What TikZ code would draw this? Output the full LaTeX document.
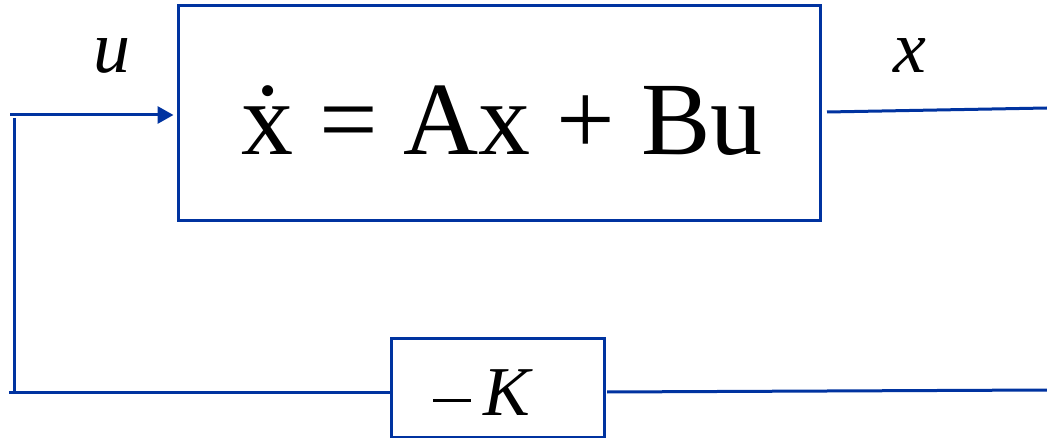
\documentclass[tikz,border=0pt]{standalone}
\usepackage{fontspec}
\setmainfont{Liberation Serif}
\usetikzlibrary{arrows.meta}
\definecolor{lineblue}{RGB}{0,51,160}
\begin{document}
\begin{tikzpicture}[x=1pt,y=-1pt,
  box/.style={draw=lineblue,line width=3pt,inner sep=0pt},
  wire/.style={draw=lineblue,line width=3pt},
  lbl/.style={inner sep=0pt,anchor=base,font=\fontsize{74}{74}\selectfont\itshape}]
\useasboundingbox (0,0) rectangle (1047,438);
% blocks
\node[box,minimum width=642pt,minimum height=215pt] (plant) at (499,113.5) {};
\node[box,minimum width=213pt,minimum height=98pt] (gain) at (497.5,388) {};
% texts
\node[anchor=base,inner sep=0pt,font=\fontsize{104}{104}\selectfont] (eq) at (502,155) {\.{x} = Ax + Bu};
\node[anchor=base west,inner sep=0pt,font=\fontsize{70}{70}\selectfont] (k) at (433,415) {\rule[13pt]{38pt}{3.5pt}\hspace{12pt}\textit{K}};
\node[lbl] (ulbl) at (112,73) {u};
\node[lbl] (xlbl) at (910,73) {x};
% coordinates
\coordinate (inL) at (10,115);
\coordinate (vTop) at (14,118);
\coordinate (vBot) at (14,392);
\coordinate (botL) at (9,392);
\coordinate (outR) at (1047,108);
\coordinate (outStart) at (827,112);
\coordinate (fbR) at (1047,390);
\coordinate (fbStart) at (607,392);
% connectors
\draw[wire,shorten >=3pt,-{Triangle[length=16pt,width=17pt]}] (inL) -- (plant.west |- inL);
\draw[wire] (vTop) -- (vBot);
\draw[wire] (botL) -- (gain.west |- botL);
\draw[wire] (fbStart) -- (fbR);
\draw[wire] (outStart) -- (outR);
\end{tikzpicture}
\end{document}
